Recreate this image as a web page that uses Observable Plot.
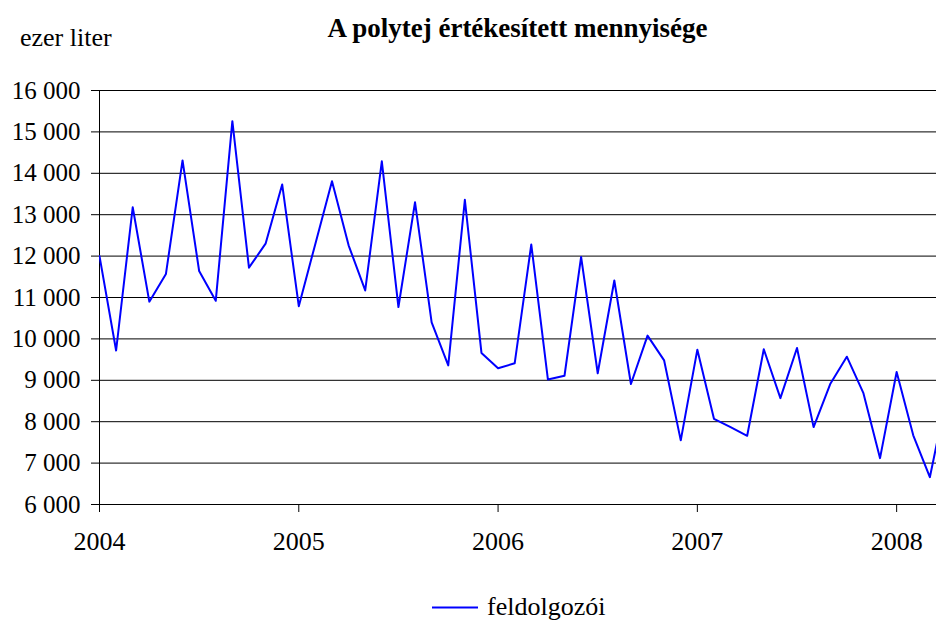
<!DOCTYPE html>
<html>
<head>
<meta charset="utf-8">
<script src="https://cdn.jsdelivr.net/npm/d3@7"></script>
<script src="https://cdn.jsdelivr.net/npm/@observablehq/plot@0.6"></script>
<style>
  html, body { margin: 0; padding: 0; background: #fff; }
  #wrap { position: relative; width: 936px; height: 624px; font-family: "Liberation Serif", Tinos, "Times New Roman", Times, "DejaVu Serif", "Noto Serif", serif; color: #000; }
  .t { position: absolute; font-size: 26px; line-height: 1; white-space: nowrap; }
  #title { left: 99px; width: 837px; top: 15px; text-align: center; font-weight: bold; font-size: 27px; }
  #unit { left: 20px; top: 25px; }
  #legend { left: 432px; top: 594px; display: flex; align-items: flex-start; }
  #wrap svg.plot { position: absolute; left: 0; top: 0; }
</style>
</head>
<body>
<div id="wrap">
  <div id="title" class="t">A polytej értékesített mennyisége</div>
  <div id="unit" class="t">ezer liter</div>
  <div id="legend" class="t">
    <svg width="46" height="26" style="display:block"><line x1="0" x2="46" y1="13.5" y2="13.5" stroke="#0000FF" stroke-width="2"/></svg>
    <span style="margin-left:9px">feldolgozói</span>
  </div>
</div>
<script>
// Monthly series, January 2004 onward (ezer liter)
const seriesName = "feldolgozói";
const startYear = 2004;
const values = [
  12000, 9720, 13180, 10900, 11570, 14310, 11640, 10920, 15260, 11720, 12300, 13730,
  10790, 12300, 13810, 12260, 11170, 14290, 10770, 13300, 10400, 9360, 13360, 9660,
  9290, 9410, 12280, 9020, 9110, 11980, 9170, 11410, 8910, 10080, 9480, 7550,
  9740, 8070, 7870, 7660, 9750, 8570, 9780, 7870, 8910, 9570, 8690, 7120,
  9200, 7670, 6660, 8600
];
const yearTicks = [2004, 2005, 2006, 2007, 2008];
const yTicks = [6000, 7000, 8000, 9000, 10000, 11000, 12000, 13000, 14000, 15000, 16000];

const data = values.map((v, i) => ({t: startYear + i / 12, v}));
const fmt = d => String(d).replace(/\B(?=(\d{3})+(?!\d))/g, " ");
const serif = '"Liberation Serif", Tinos, "Times New Roman", Times, "DejaVu Serif", "Noto Serif", serif';

const chart = Plot.plot({
  width: 936,
  height: 624,
  marginLeft: 99,
  marginRight: 0,
  marginTop: 90,
  marginBottom: 120,
  style: {fontFamily: serif, fontSize: "26px", color: "#000", background: "transparent", overflow: "visible"},
  x: {domain: [2004, 2008.2], type: "linear"},
  y: {domain: [6000, 16000]},
  marks: [
    Plot.ruleY(yTicks, {stroke: "#000", strokeWidth: 1}),
    Plot.ruleX([2004], {y1: 6000, y2: 16000, stroke: "#000", strokeWidth: 1}),
    Plot.axisY({ticks: yTicks, tickFormat: fmt, tickSize: 8, tickPadding: 11, label: null, fontSize: 25, fontFamily: serif}),
    Plot.axisX({ticks: yearTicks, tickFormat: d => String(d), tickSize: 8, tickPadding: 19, label: null, fontSize: 26, fontFamily: serif}),
    Plot.line(data, {x: "t", y: "v", stroke: "#0000FF", strokeWidth: 2, clip: true})
  ]
});
chart.classList.add("plot");
document.getElementById("wrap").appendChild(chart);
</script>
</body>
</html>
